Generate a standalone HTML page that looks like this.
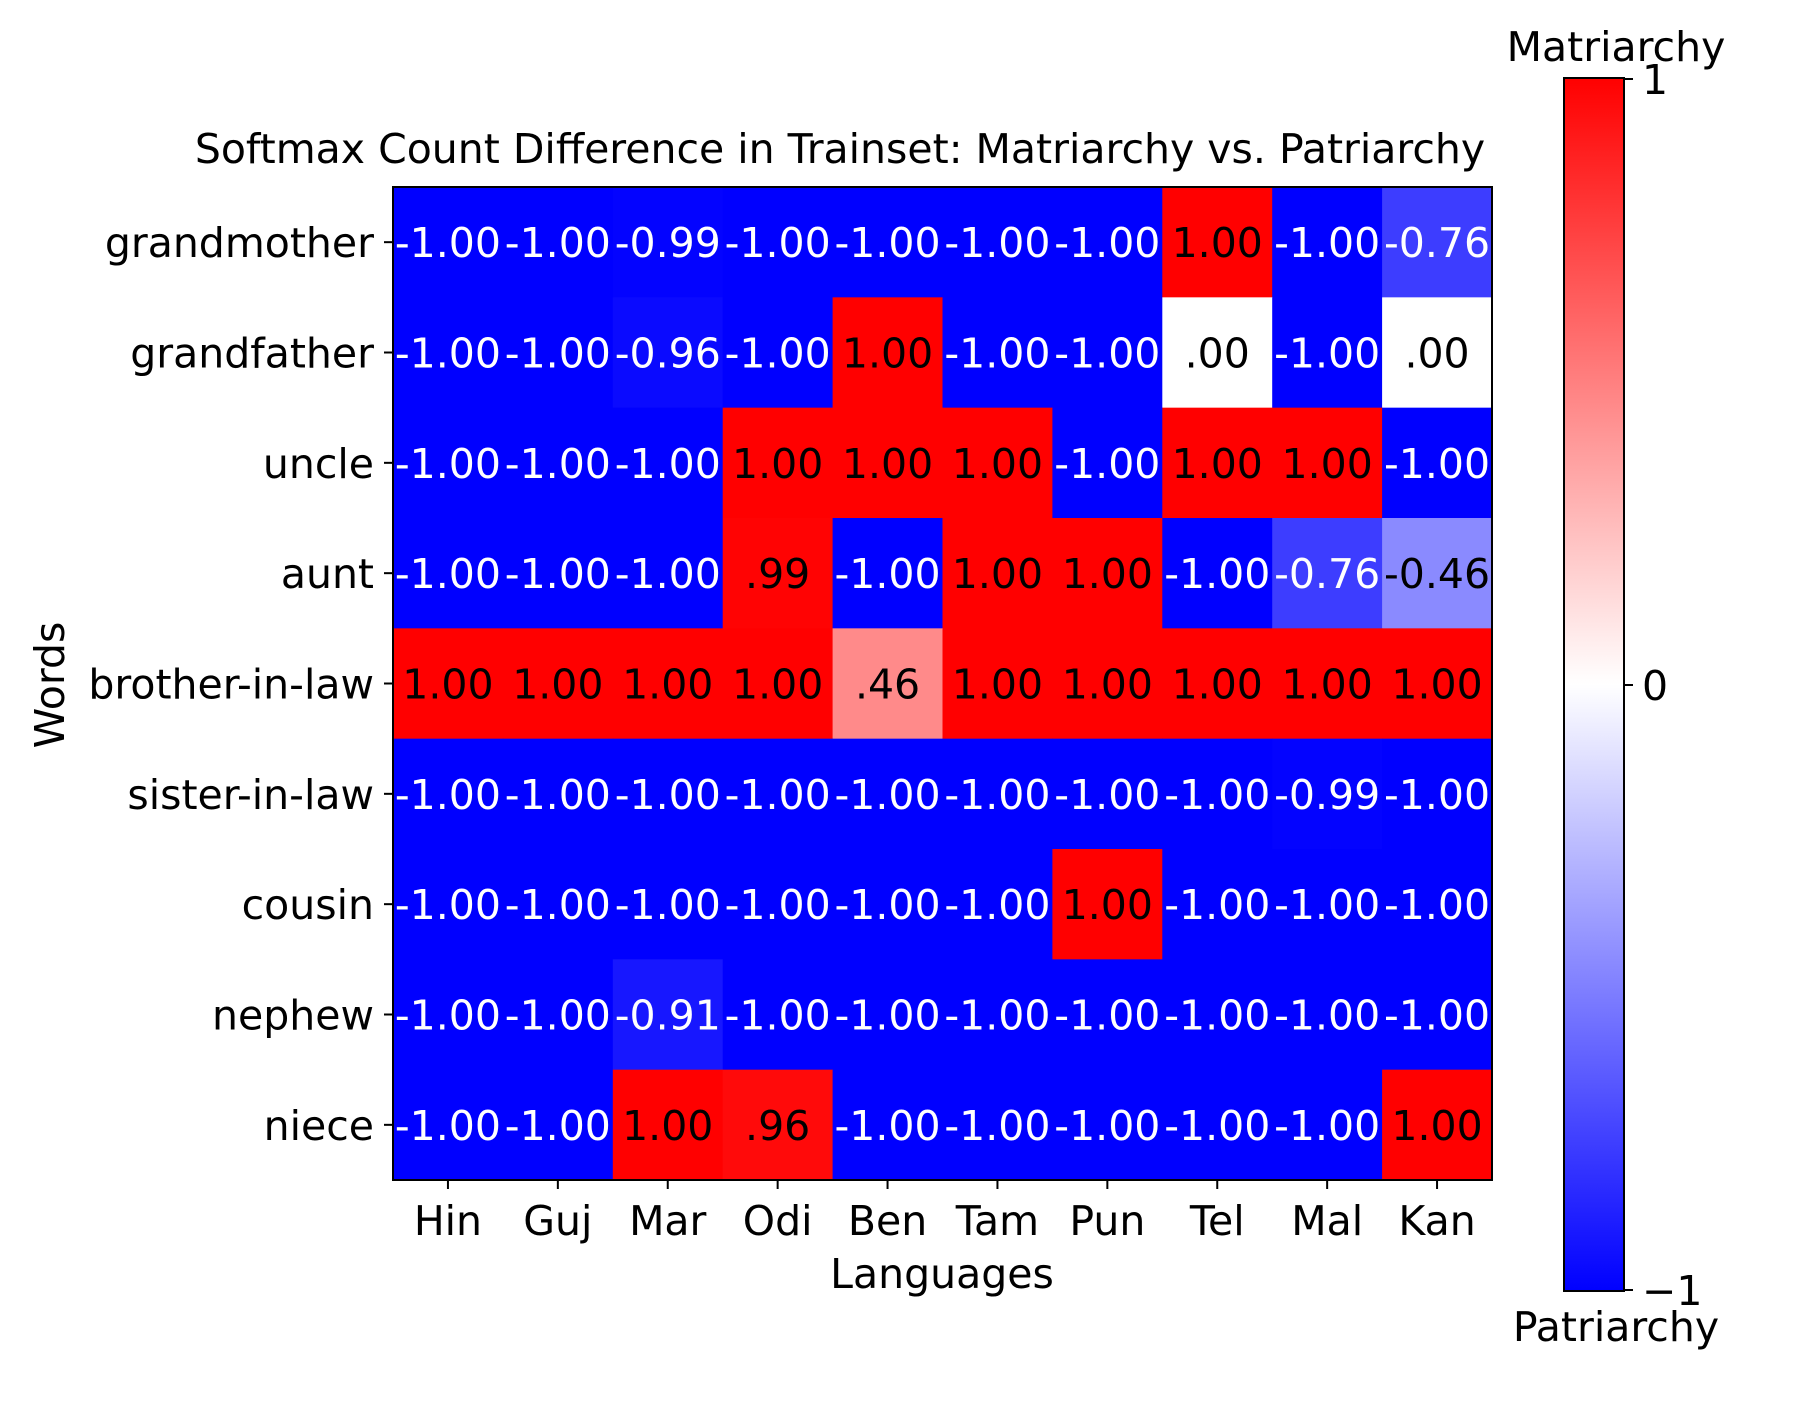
<!DOCTYPE html>
<html><head><meta charset="utf-8"><style>
body{margin:0;background:#fff}
svg text{font-family:"DejaVu Sans","Liberation Sans",sans-serif;font-size:41px}
</style></head><body>
<svg id="chart" width="1800" height="1400" xmlns="http://www.w3.org/2000/svg">
<defs><linearGradient id="cb" x1="0" y1="1" x2="0" y2="0">
<stop offset="0" stop-color="#0000ff"/><stop offset="0.5" stop-color="#ffffff"/><stop offset="1" stop-color="#ff0000"/></linearGradient></defs>
<g id="cells"></g>
<rect x="393" y="187" width="1099" height="993" fill="none" stroke="#000" stroke-width="2"/>
<g id="axes"></g>
<text x="840" y="163" text-anchor="middle">Softmax Count Difference in Trainset: Matriarchy vs. Patriarchy</text>
<text x="942" y="1288" text-anchor="middle">Languages</text>
<text x="0" y="0" text-anchor="middle" transform="translate(64,685) rotate(-90)">Words</text>
<rect x="1564" y="78" width="60" height="1213" fill="url(#cb)" stroke="#000" stroke-width="2"/>
<line x1="1624" y1="79" x2="1633" y2="79" stroke="#000" stroke-width="2"/>
<line x1="1624" y1="685" x2="1633" y2="685" stroke="#000" stroke-width="2"/>
<line x1="1624" y1="1290" x2="1633" y2="1290" stroke="#000" stroke-width="2"/>
<text x="1642" y="94">1</text>
<text x="1642" y="700">0</text>
<text x="1642" y="1305">−1</text>
<text x="1616" y="61" text-anchor="middle">Matriarchy</text>
<text x="1616" y="1341" text-anchor="middle">Patriarchy</text>
</svg>
<script>
const languages=["Hin","Guj","Mar","Odi","Ben","Tam","Pun","Tel","Mal","Kan"];
const words=["grandmother","grandfather","uncle","aunt","brother-in-law","sister-in-law","cousin","nephew","niece"];
const rowGrandmother=[-1,-1,-0.99,-1,-1,-1,-1,1,-1,-0.76];
const rowGrandfather=[-1,-1,-0.96,-1,1,-1,-1,0,-1,0];
const rowUncle=[-1,-1,-1,1,1,1,-1,1,1,-1];
const rowAunt=[-1,-1,-1,0.99,-1,1,1,-1,-0.76,-0.46];
const rowBrotherInLaw=[1,1,1,1,0.46,1,1,1,1,1];
const rowSisterInLaw=[-1,-1,-1,-1,-1,-1,-1,-1,-0.99,-1];
const rowCousin=[-1,-1,-1,-1,-1,-1,1,-1,-1,-1];
const rowNephew=[-1,-1,-0.91,-1,-1,-1,-1,-1,-1,-1];
const rowNiece=[-1,-1,1,0.96,-1,-1,-1,-1,-1,1];
const values=[rowGrandmother,rowGrandfather,rowUncle,rowAunt,rowBrotherInLaw,rowSisterInLaw,rowCousin,rowNephew,rowNiece];
const NS="http://www.w3.org/2000/svg";
const L=393,R=1492,T=187,B=1180;
const cw=(R-L)/languages.length, ch=(B-T)/words.length;
const xPos=i=>L+i*cw, yPos=j=>T+j*ch;
function color(v){const t=(v+1)/2;let r,g,b;
 if(t<0.5){r=g=Math.round(2*t*255);b=255;}else{r=255;g=b=Math.round((2-2*t)*255);}
 return `rgb(${r},${g},${b})`;}
function fmt(v){let s=v.toFixed(2);if(s.startsWith("0"))s=s.slice(1);return s;}
const cells=document.getElementById('cells'),axes=document.getElementById('axes');
values.forEach((row,j)=>row.forEach((v,i)=>{
 const r=document.createElementNS(NS,'rect');
 r.setAttribute('x',xPos(i));r.setAttribute('y',yPos(j));
 r.setAttribute('width',cw+0.5);r.setAttribute('height',ch+0.5);
 r.setAttribute('fill',color(v));
 
 
 cells.appendChild(r);
 const t=document.createElementNS(NS,'text');
 t.setAttribute('x',xPos(i)+cw/2);t.setAttribute('y',yPos(j)+ch/2+15);
 t.setAttribute('text-anchor','middle');
 t.setAttribute('fill',v<-0.5?'#fff':'#000');
 t.textContent=fmt(v);
 
 
 cells.appendChild(t);
}));
languages.forEach((l,i)=>{
 const x=xPos(i)+cw/2;
 const k=document.createElementNS(NS,'line');
 k.setAttribute('x1',x);k.setAttribute('x2',x);k.setAttribute('y1',B);k.setAttribute('y2',B+9);
 k.setAttribute('stroke','#000');k.setAttribute('stroke-width','2');
 axes.appendChild(k);
 const t=document.createElementNS(NS,'text');
 t.setAttribute('x',x);t.setAttribute('y',1235);t.setAttribute('text-anchor','middle');
 t.textContent=l;
 
 
 axes.appendChild(t);
});
words.forEach((w,j)=>{
 const y=yPos(j)+ch/2;
 const k=document.createElementNS(NS,'line');
 k.setAttribute('x1',L-9);k.setAttribute('x2',L);k.setAttribute('y1',y);k.setAttribute('y2',y);
 k.setAttribute('stroke','#000');k.setAttribute('stroke-width','2');
 axes.appendChild(k);
 const t=document.createElementNS(NS,'text');
 t.setAttribute('x',374);t.setAttribute('y',y+15);t.setAttribute('text-anchor','end');
 t.textContent=w;
 
 
 axes.appendChild(t);
});
</script>
</body></html>
